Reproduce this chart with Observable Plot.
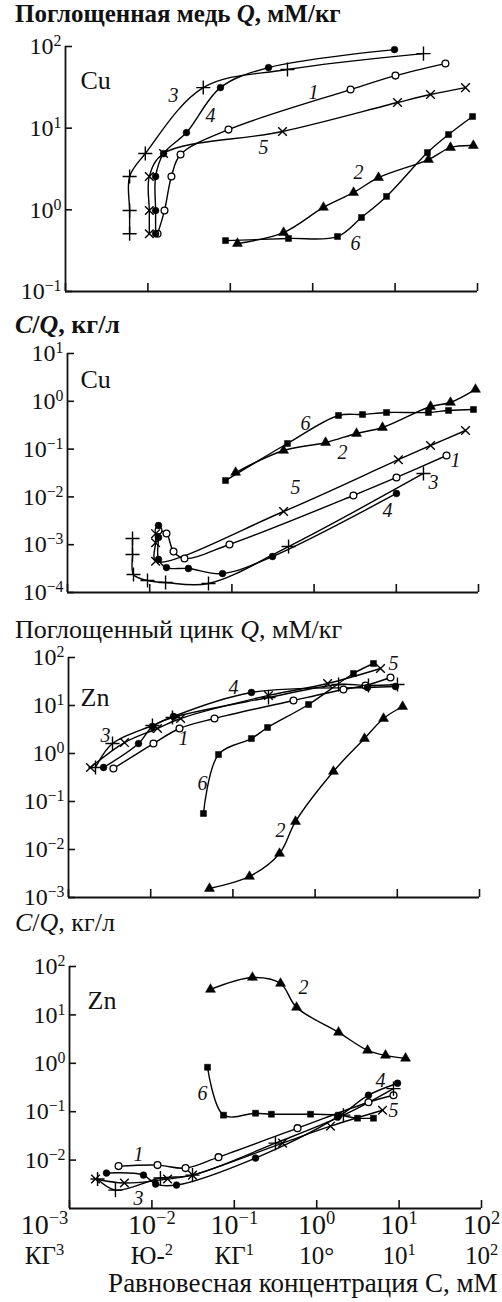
<!DOCTYPE html>
<html><head><meta charset="utf-8">
<script src="https://cdn.jsdelivr.net/npm/d3@7"></script>
<script src="https://cdn.jsdelivr.net/npm/@observablehq/plot@0.6"></script>
<style>
body{margin:0;background:#fff;}
#wrap{position:relative;width:502px;height:1302px;overflow:hidden;font-family:"Liberation Serif","Times New Roman",serif;color:#111;}
.t{position:absolute;left:15px;white-space:nowrap;line-height:0.8;}
</style></head><body><div id="wrap"></div>
<script>
// ---------- DATA ----------
const xTicks = [1e-3, 1e-2, 1e-1, 1, 10, 100];
const xTickLabels = ["10^−3", "10^−2", "10^−1", "10^0", "10^1", "10^2"];
const xTickLabels2 = ["КГ^3", "Ю-^2", "КГ^1", "10°", "10^1", "10^2"];
const titles = ["Поглощенная медь <i>Q</i>, мМ/кг", "<i>C</i>/<i>Q</i>, кг/л", "Поглощенный цинк <i>Q</i>, мМ/кг", "<i>C</i>/<i>Q</i>, кг/л"];
const xTitle = "Равновесная концентрация С, мМ";

// Panel 1: Cu, Q (mM/kg)
const cuQ_1 = [[0.0131,0.51],[0.0159,0.98],[0.0193,2.56],[0.0249,4.75],[0.095,9.6],[2.88,29.7],[10.1,44],[40.8,61.8]];
const cuQ_2 = [[0.122,0.387],[0.443,0.527],[1.35,1.07],[3.13,1.63],[6.29,2.48],[25.4,4.13],[47,5.79],[89,6.12]];
const cuQ_3 = [[0.006,0.51],[0.006,0.98],[0.006,2.56],[0.0093,4.89],[0.047,31.4],[0.494,52.2],[22.1,81.8]];
const cuQ_4 = [[0.0124,0.51],[0.0124,0.98],[0.0124,2.56],[0.0155,4.89],[0.0294,8.83],[0.076,31.4],[0.291,55.2],[9.84,91.6]];
const cuQ_5 = [[0.0104,0.51],[0.0104,0.98],[0.0104,2.56],[0.0155,4.89],[0.43,9.1],[10.7,20.6],[26.9,25.8],[71.5,31.4]];
const cuQ_6 = [[0.0875,0.42],[0.508,0.446],[2.0,0.471],[3.91,0.806],[7.87,1.46],[24.7,5.03],[44.5,8.35],[87,13.9]];
const cuQ_lab = [["3",0.0205,25],["4",0.0575,14.3],["1",1.02,27.3],["5",0.253,5.79],["2",3.6,2.86],["6",3.31,0.387]];

// Panel 2: Cu, C/Q (kg/l)
const cuK_1 = [[0.0128,0.00198],[0.016,0.00171],[0.0195,0.000721],[0.0265,0.000514],[0.0935,0.00101],[3.01,0.0107],[10.05,0.0255],[40.8,0.0735]];
const cuK_2 = [[0.111,0.0324],[0.425,0.0935],[1.38,0.137],[3.28,0.212],[6.79,0.283],[26.1,0.778],[45.6,0.944],[92,1.77]];
const cuK_3 = [[0.00618,0.00135],[0.00618,0.000624],[0.00635,0.000238],[0.0094,0.000178],[0.0156,0.000162],[0.0519,0.000154],[0.489,0.000916],[21.4,0.0309]];
const cuK_4 = [[0.0128,0.00252],[0.0128,0.00142],[0.0128,0.00049],[0.016,0.000333],[0.0296,0.000318],[0.0769,0.000249],[0.312,0.000566],[10.05,0.0118]];
const cuK_5 = [[0.0118,0.0017],[0.0118,0.0011],[0.0118,0.00045],[0.425,0.00495],[10.6,0.060],[26.1,0.119],[69.5,0.245]];
const cuK_6 = [[0.0836,0.022],[0.474,0.131],[1.98,0.505],[3.88,0.53],[7.6,0.583],[24.6,0.583],[43.2,0.643],[86.9,0.673]];
const cuK_lab = [["6",0.785,0.344],["2",2.22,0.085],["5",0.594,0.0157],["1",52.5,0.0578],["3",28.4,0.02],["4",7.8,0.00519]];

// Panel 3: Zn, Q (mM/kg)
const znQ_1 = [[0.00352,0.487],[0.0108,1.61],[0.0224,3.32],[0.0597,5.36],[0.546,12.7],[2.21,21.5],[4.1,26.1],[8.26,38.3]];
const znQ_2 = [[0.0519,0.00154],[0.159,0.00274],[0.369,0.00826],[0.578,0.0383],[1.67,0.422],[3.99,2.05],[6.8,5.36],[11.6,9.53]];
const znQ_3 = [[0.00213,0.511],[0.00343,1.61],[0.0105,3.83],[0.0184,5.62],[0.271,14.7],[1.93,27.4],[4.46,26.1],[10.05,27.4]];
const znQ_4 = [[0.00267,0.511],[0.00711,1.61],[0.0105,3.65],[0.0189,5.9],[0.168,18.7],[4.34,23.7],[9.5,24.9]];
const znQ_5 = [[0.00185,0.511],[0.0048,1.69],[0.0121,3.32],[0.0231,5.36],[0.271,16.2],[1.42,28.7],[6.25,59]];
const znQ_6 = [[0.0438,0.0562],[0.0668,0.953],[0.168,2.05],[0.264,3.48],[0.832,10.5],[2.93,46.4],[5.13,75]];
const znQ_lab = [["3",0.00282,2.37],["4",0.1016,23.7],["1",0.0251,2.05],["5",9.0,75],["6",0.0426,0.237],["2",0.379,0.0249]];

// Panel 4: Zn, C/Q (kg/l)
const znK_1 = [[0.00394,0.00752],[0.0117,0.00789],[0.0256,0.00684],[0.0643,0.0115],[0.585,0.0457],[4.25,0.157],[8.55,0.219]];
const znK_2 = [[0.0514,33.6],[0.166,59.3],[0.364,44.6],[0.569,14.3],[1.84,4.36],[4.14,1.85],[6.84,1.46],[11.97,1.27]];
const znK_3 = [[0.00219,0.00406],[0.00361,0.0024],[0.0127,0.00426],[0.0311,0.0049],[0.316,0.0224],[2.11,0.0848],[8.55,0.3]];
const znK_4 = [[0.00281,0.0054],[0.0079,0.0049],[0.0111,0.0032],[0.0199,0.00305],[0.181,0.011],[1.79,0.077],[4.25,0.219],[9.57,0.387]];
const znK_5 = [[0.00207,0.00406],[0.00464,0.00336],[0.0155,0.00406],[0.0311,0.0049],[0.385,0.0224],[1.47,0.0502],[6.29,0.107]];
const znK_6 = [[0.0473,0.828],[0.074,0.0848],[0.181,0.0931],[0.282,0.0887],[0.841,0.0887],[1.84,0.0848],[3.13,0.0734],[4.89,0.0734]];
const znK_lab = [["2",0.692,36.9],["6",0.0411,0.24],["4",5.94,0.446],["5",8.55,0.107],["1",0.00687,0.0127],["3",0.00687,0.00164]];

// ---------- LAYOUT ----------
const panels = [
  {series:[cuQ_1,cuQ_2,cuQ_3,cuQ_4,cuQ_5,cuQ_6], labels:cuQ_lab, el:"Cu", top:46, bottom:291, left:65, right:477, ydom:[1e-1,1e2], yticks:[1e-1,1,10,100], elDx:15, elDy:24, titleY:15, titleSize:25, bold:true},
  {series:[cuK_1,cuK_2,cuK_3,cuK_4,cuK_5,cuK_6], labels:cuK_lab, el:"Cu", top:353, bottom:592, left:67, right:478, ydom:[1e-4,1e1], yticks:[1e-4,1e-3,1e-2,1e-1,1,10], elDx:13, elDy:16, titleY:327, titleSize:26, bold:true},
  {series:[znQ_1,znQ_2,znQ_3,znQ_4,znQ_5,znQ_6], labels:znQ_lab, el:"Zn", top:657, bottom:897, left:68, right:479, ydom:[1e-3,1e2], yticks:[1e-3,1e-2,1e-1,1,10,100], elDx:12, elDy:30, titleY:632, titleSize:26},
  {series:[znK_1,znK_2,znK_3,znK_4,znK_5,znK_6], labels:znK_lab, el:"Zn", top:966, bottom:1208, left:69, right:481, ydom:[1e-3,1e2], yticks:[1e-2,1e-1,1,10,100], elDx:18, elDy:24, titleY:925, titleSize:26, bottomAxis:true}
];

const wrap = document.getElementById("wrap");
const svgNS = "http://www.w3.org/2000/svg";
const expFmt = d => { const e = Math.round(Math.log10(d)); return "10^" + (e < 0 ? "−" + (-e) : String(e)); };
function supify(svg) {
  svg.querySelectorAll("text").forEach(t => {
    const s = t.textContent; const i = s.indexOf("^"); if (i < 0) return;
    t.textContent = "";
    const a = document.createElementNS(svgNS, "tspan"); a.textContent = s.slice(0, i); t.appendChild(a);
    const b = document.createElementNS(svgNS, "tspan"); b.textContent = s.slice(i + 1);
    b.setAttribute("dy", "-0.5em"); b.setAttribute("font-size", "0.66em"); t.appendChild(b);
  });
}
const sym = {
  1: {symbol: "circle", fill: "white", stroke: "black", r: 3.4, strokeWidth: 1.3},
  2: {symbol: "triangle", fill: "black", stroke: "black", r: 3.7, strokeWidth: 0.5},
  3: {symbol: "plus", fill: "none", stroke: "black", r: 4.6, strokeWidth: 1.4},
  4: {symbol: "circle", fill: "black", stroke: "black", r: 3.4, strokeWidth: 0.5},
  5: {symbol: "times", fill: "none", stroke: "black", r: 4.0, strokeWidth: 1.4},
  6: {symbol: "square", fill: "black", stroke: "black", r: 3.4, strokeWidth: 0.5}
};

panels.forEach(P => {
  const rows = P.series.flatMap((s, i) => s.map(([x, y]) => ({c: i + 1, x, y})));
  const labs = P.labels.map(([t, x, y]) => ({t, x, y}));
  const mt = 30, mb = P.bottomAxis ? 94 : 30;
  const fw = P.right - P.left, fh = P.bottom - P.top;
  const marks = [
    Plot.ruleX([1e-3], {strokeWidth: 1.8}),
    Plot.ruleY([P.ydom[0]], {strokeWidth: 1.8}),
    Plot.tickY(P.yticks, {y: d => d, insetRight: fw - 7, strokeWidth: 1.6}),
    Plot.tickX(xTicks, {x: d => d, insetTop: fh - 8, strokeWidth: 1.6}),
    Plot.text(P.yticks, {y: d => d, frameAnchor: "left", dx: -4, textAnchor: "end", text: expFmt, fontSize: 24}),
    Plot.line(rows, {x: "x", y: "y", z: "c", curve: "catmull-rom", stroke: "black", strokeWidth: 1.4}),
    ...[1, 2, 3, 4, 5, 6].map(c => Plot.dot(rows.filter(d => d.c === c), {x: "x", y: "y", ...sym[c]})),
    Plot.text(labs, {x: "x", y: "y", text: "t", fontStyle: "italic", fontSize: 20}),
    Plot.text([P.el], {frameAnchor: "top-left", dx: P.elDx, dy: P.elDy, textAnchor: "start", text: d => d, fontSize: 26})
  ];
  if (P.bottomAxis) {
    const idx = xTicks.map((d, i) => i);
    marks.push(
      Plot.text(idx.slice(0, 1), {x: i => xTicks[i], text: i => xTickLabels[i], frameAnchor: "bottom", dy: 25, dx: -25, fontSize: 28}),
      Plot.text(idx.slice(1), {x: i => xTicks[i], text: i => xTickLabels[i], frameAnchor: "bottom", dy: 25, fontSize: 28}),
      Plot.text(idx.slice(0, 1), {x: i => xTicks[i], text: i => xTickLabels2[i], frameAnchor: "bottom", dy: 55, dx: -25, fontSize: 25}),
      Plot.text(idx.slice(1), {x: i => xTicks[i], text: i => xTickLabels2[i], frameAnchor: "bottom", dy: 55, fontSize: 25}),
      Plot.text([xTitle], {frameAnchor: "bottom-right", dx: 16, dy: 83, textAnchor: "end", text: d => d, fontSize: 27})
    );
  }
  const chart = Plot.plot({
    width: 502, height: fh + mt + mb,
    marginLeft: P.left, marginRight: 502 - P.right, marginTop: mt, marginBottom: mb,
    x: {type: "log", domain: [1e-3, 1e2], axis: null},
    y: {type: "log", domain: P.ydom, axis: null},
    style: {background: "transparent", fontFamily: "'Liberation Serif', serif", fontSize: "24px", color: "#111", overflow: "visible"},
    marks
  });
  supify(chart);
  chart.style.position = "absolute";
  chart.style.left = "0px";
  chart.style.top = (P.top - mt) + "px";
  wrap.appendChild(chart);
});

titles.forEach((t, i) => {
  const P = panels[i];
  const d = document.createElement("div");
  d.className = "t";
  d.innerHTML = t;
  d.style.fontSize = P.titleSize + "px";
  d.style.top = (P.titleY - P.titleSize * 0.45) + "px";
  if (P.bold) d.style.fontWeight = "bold";
  wrap.appendChild(d);
});
</script></body></html>
